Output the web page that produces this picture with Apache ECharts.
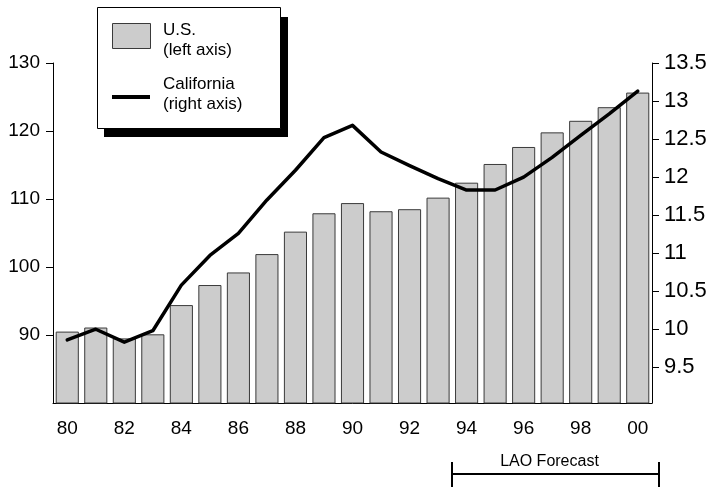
<!DOCTYPE html>
<html>
<head>
<meta charset="utf-8">
<script src="https://cdn.jsdelivr.net/npm/echarts@6/dist/echarts.min.js"></script>
<style>
  html, body { margin: 0; padding: 0; background: #fff; }
  #chart { width: 713px; height: 487px; }
</style>
</head>
<body>
<div id="chart"></div>
<script>
// Years on the category axis (two-digit labels)
const years = ['80','81','82','83','84','85','86','87','88','89','90',
               '91','92','93','94','95','96','97','98','99','00'];

// U.S. index (left axis)
const usValues = [90.5, 91.1, 89.5, 90.1, 94.4, 97.35, 99.2, 101.9, 105.2, 107.9, 109.4,
                  108.2, 108.5, 110.2, 112.4, 115.15, 117.65, 119.8, 121.5, 123.5, 125.65];

// California (right axis)
const caValues = [9.86, 10.0, 9.83, 9.98, 10.58, 10.97, 11.26, 11.70, 12.09, 12.52, 12.68,
                  12.33, 12.15, 11.98, 11.83, 11.83, 12.0, 12.26, 12.55, 12.83, 13.13];

// Tick values shown on each value axis
const leftTicks = [90, 100, 110, 120, 130];
const rightTicks = [9.5, 10, 10.5, 11, 11.5, 12, 12.5, 13, 13.5];

const forecastStart = '94';
const forecastLabel = 'LAO Forecast';

const FONT = 'Liberation Sans, Arial, Helvetica, sans-serif';

const chart = echarts.init(document.getElementById('chart'), null, { renderer: 'canvas' });

chart.setOption({
  animation: false,
  backgroundColor: '#fff',
  textStyle: { fontFamily: FONT, color: '#000' },
  grid: { left: 53, right: 61, top: 63, bottom: 84, containLabel: false },
  xAxis: {
    type: 'category',
    data: years,
    boundaryGap: true,
    axisLine: { show: true, lineStyle: { color: '#000', width: 1 } },
    axisTick: { show: false },
    axisLabel: { interval: 1, margin: 16, fontSize: 19, color: '#000', fontFamily: FONT }
  },
  yAxis: [
    {
      type: 'value',
      position: 'left',
      min: 80, max: 130,
      splitLine: { show: false },
      axisLine: { show: true, lineStyle: { color: '#000', width: 1 } },
      axisTick: { show: true, length: 7, customValues: leftTicks, lineStyle: { color: '#000' } },
      axisLabel: { customValues: leftTicks, margin: 13, fontSize: 19, color: '#000', fontFamily: FONT }
    },
    {
      type: 'value',
      position: 'right',
      min: 9.03, max: 13.5,
      splitLine: { show: false },
      axisLine: { show: true, lineStyle: { color: '#000', width: 1 } },
      axisTick: { show: true, length: 7, customValues: rightTicks, lineStyle: { color: '#000' } },
      axisLabel: { customValues: rightTicks, margin: 12, fontSize: 22, color: '#000', fontFamily: FONT }
    }
  ],
  series: [
    {
      name: 'U.S.',
      type: 'bar',
      yAxisIndex: 0,
      data: usValues,
      barCategoryGap: '19%',
      itemStyle: { color: '#cccccc', borderColor: '#3a3a3a', borderWidth: 1 },
      z: 2
    },
    {
      name: 'California',
      type: 'line',
      yAxisIndex: 1,
      data: caValues,
      symbol: 'none',
      lineStyle: { color: '#000', width: 3.5, cap: 'round', join: 'round' },
      z: 3
    }
  ]
});

// Legend box with drop shadow, plus the forecast bracket under the axis
const startX = chart.convertToPixel({ xAxisIndex: 0 }, forecastStart);
const grid = chart.getModel().getComponent('grid').coordinateSystem.getRect();
const band = grid.width / years.length;
const bx0 = Math.round(startX - band / 2);
const bx1 = Math.round(grid.x + grid.width + 7);
const by = 474;

chart.setOption({
  graphic: [
    { type: 'rect', shape: { x: 104, y: 17, width: 184, height: 120 }, style: { fill: '#000' }, z: 10 },
    { type: 'rect', shape: { x: 97.5, y: 7.5, width: 183, height: 121 }, style: { fill: '#fff', stroke: '#000', lineWidth: 1 }, z: 11 },
    { type: 'rect', shape: { x: 112.5, y: 23.5, width: 38, height: 25 }, style: { fill: '#cccccc', stroke: '#3a3a3a', lineWidth: 1 }, z: 12 },
    { type: 'line', shape: { x1: 112, y1: 97, x2: 150, y2: 97 }, style: { stroke: '#000', lineWidth: 4 }, z: 12 },
    { type: 'text', x: 163, y: 20, style: { text: 'U.S.\n(left axis)', font: '17px ' + FONT, fill: '#000', lineHeight: 20 }, z: 12 },
    { type: 'text', x: 163, y: 74, style: { text: 'California\n(right axis)', font: '17px ' + FONT, fill: '#000', lineHeight: 20 }, z: 12 },

    { type: 'line', shape: { x1: bx0, y1: by, x2: bx1, y2: by }, style: { stroke: '#000', lineWidth: 2 }, z: 12 },
    { type: 'line', shape: { x1: bx0, y1: 462, x2: bx0, y2: 487 }, style: { stroke: '#000', lineWidth: 2 }, z: 12 },
    { type: 'line', shape: { x1: bx1, y1: 462, x2: bx1, y2: 487 }, style: { stroke: '#000', lineWidth: 2 }, z: 12 },
    { type: 'text', x: (bx0 + bx1) / 2 - 6, y: 462, style: { text: forecastLabel, font: '16px ' + FONT, fill: '#000', align: 'center', verticalAlign: 'middle' }, z: 12 }
  ]
});
</script>
</body>
</html>
